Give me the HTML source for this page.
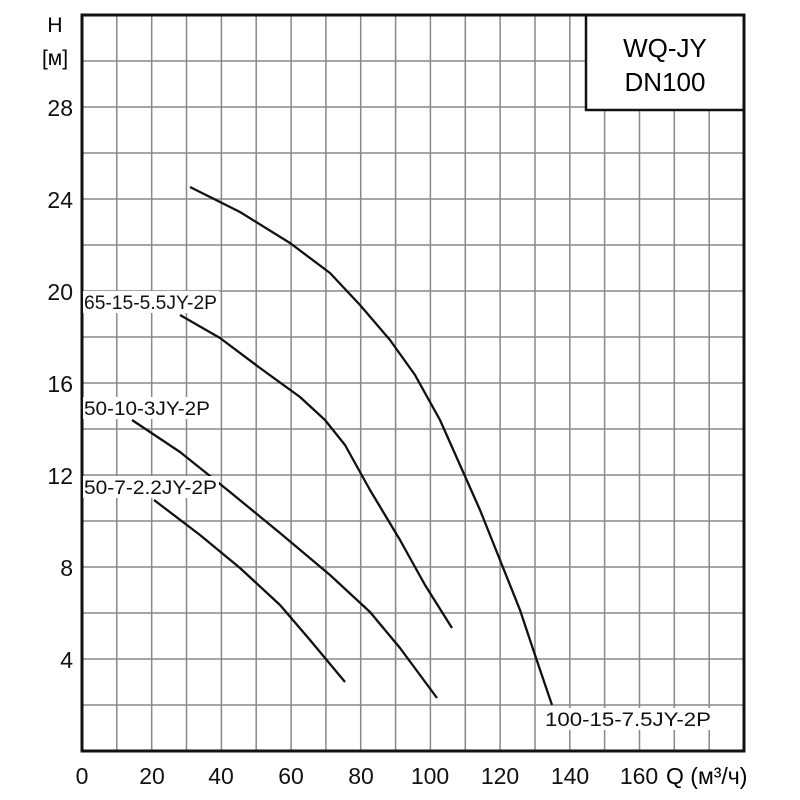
<!DOCTYPE html>
<html><head><style>body{margin:0;background:#fff}svg{display:block}</style></head><body>
<svg width="800" height="800" viewBox="0 0 800 800" xmlns="http://www.w3.org/2000/svg" font-family="Liberation Sans, sans-serif">
<g stroke="#888" stroke-width="1.5">
<path d="M116.8 15V751M151.7 15V751M186.5 15V751M221.4 15V751M256.2 15V751M291.1 15V751M325.9 15V751M360.7 15V751M395.6 15V751M430.4 15V751M465.3 15V751M500.1 15V751M535 15V751M569.8 15V751M604.6 15V751M639.5 15V751M674.3 15V751M709.2 15V751"/>
<path d="M82 61H744M82 107H744M82 153H744M82 199H744M82 245H744M82 291H744M82 337H744M82 383H744M82 429H744M82 475H744M82 521H744M82 567H744M82 613H744M82 659H744M82 705H744"/>
</g>
<rect x="586" y="15" width="158" height="95" fill="#fff" stroke="#111" stroke-width="2.5"/>
<text x="665" y="57" font-size="26" text-anchor="middle">WQ-JY</text>
<text x="665" y="91" font-size="26" text-anchor="middle">DN100</text>
<rect x="82" y="15" width="662" height="736" fill="none" stroke="#111" stroke-width="3"/>
<g fill="none" stroke="#111" stroke-width="2.3" stroke-linejoin="round">
<polyline points="190,187 240,212 290,243 330,273 360,305 390,340 415,375 440,420 460,465 480,510 500,560 520,610 535,655 552,705"/>
<polyline points="180,315 220,338 260,368 300,397 325,420 345,445 370,490 400,540 425,585 452,628"/>
<polyline points="132,420 180,452 230,492 280,533 330,575 370,612 400,648 437,698"/>
<polyline points="154,500 200,535 240,568 280,605 310,640 345,682"/>
</g>
<g fill="#111" style="font-size:19px">
<rect x="83" y="291" width="136" height="22" fill="#fff"/><text x="84" y="309" textLength="133" lengthAdjust="spacingAndGlyphs">65-15-5.5JY-2P</text>
<rect x="83" y="397" width="130" height="22" fill="#fff"/><text x="84" y="415" textLength="126" lengthAdjust="spacingAndGlyphs">50-10-3JY-2P</text>
<rect x="83" y="476" width="136" height="22" fill="#fff"/><text x="84" y="494" textLength="133" lengthAdjust="spacingAndGlyphs">50-7-2.2JY-2P</text>
<rect x="543" y="708" width="172" height="22" fill="#fff"/><text x="545" y="726" textLength="166" lengthAdjust="spacingAndGlyphs">100-15-7.5JY-2P</text>
</g>
<g font-size="23" fill="#111" text-anchor="end">
<text x="73" y="116">28</text><text x="73" y="208">24</text><text x="73" y="300">20</text>
<text x="73" y="392">16</text><text x="73" y="484">12</text><text x="73" y="576">8</text><text x="73" y="668">4</text>
</g>
<text x="55" y="32" font-size="21" text-anchor="middle">H</text>
<text x="55" y="65" font-size="21" text-anchor="middle">[м]</text>
<g font-size="23" fill="#111" text-anchor="middle">
<text x="82" y="784">0</text><text x="152" y="784">20</text><text x="221" y="784">40</text>
<text x="291" y="784">60</text><text x="361" y="784">80</text><text x="430" y="784">100</text>
<text x="500" y="784">120</text><text x="570" y="784">140</text><text x="639" y="784">160</text>
</g>
<text x="666" y="784" font-size="23">Q (м³/ч)</text>
</svg>
</body></html>
